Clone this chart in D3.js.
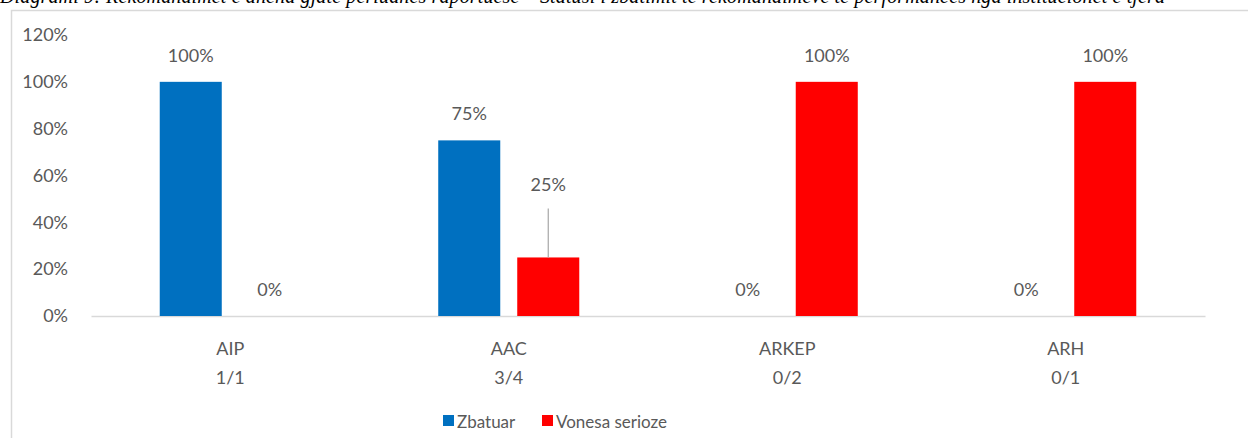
<!DOCTYPE html>
<html>
<head>
<meta charset="utf-8">
<script src="https://cdn.jsdelivr.net/npm/d3@7"></script>
<style>
  body { margin: 0; background: #fff; overflow: hidden; }
  text { font-family: Lato, "Open Sans", sans-serif; fill: #595959; }
</style>
</head>
<body>
<div id="chart-container"></div>
<script>
// data
const categories = ["AIP", "AAC", "ARKEP", "ARH"];
const ratios = ["1/1", "3/4", "0/2", "0/1"];
const seriesNames = ["Zbatuar", "Vonesa serioze"];
const zbatuar = [100, 75, 0, 0];
const vonesa = [0, 25, 100, 100];
const yTicks = [0, 20, 40, 60, 80, 100, 120];
const captionText = "Diagrami 9: Rekomandimet e dhëna gjatë periudhës raportuese – Statusi i zbatimit të rekomandimeve të performancës nga institucionet e tjera";

const svgWidth = 1248;
const svgHeight = 438;
const margin = { top: 35, right: 43, bottom: 122, left: 91 };
const width = svgWidth - margin.left - margin.right;
const height = svgHeight - margin.top - margin.bottom;

const svg = d3.select("#chart-container")
    .append("svg")
    .attr("width", svgWidth)
    .attr("height", svgHeight);

// caption from the document, cut by the top edge
svg.append("text")
    .attr("x", 0)
    .attr("y", 3)
    .attr("textLength", 1165)
    .attr("lengthAdjust", "spacing")
    .style("font-family", "'Liberation Serif', serif")
    .style("font-style", "italic")
    .style("font-size", "20px")
    .style("fill", "#000")
    .text(captionText);

// chart frame
svg.append("rect")
    .attr("x", 11.5)
    .attr("y", 10.5)
    .attr("width", 1300)
    .attr("height", 500)
    .attr("fill", "#fff")
    .attr("stroke", "#d9d9d9")
    .attr("stroke-width", 1.5);

const chart = svg.append("g")
    .attr("transform", `translate(${margin.left},${margin.top})`);

const x0 = d3.scaleBand()
    .domain(categories)
    .range([0, width])
    .padding(0);

const x1 = d3.scaleBand()
    .domain(seriesNames)
    .range([0, x0.bandwidth()])
    .paddingInner(0.215)
    .paddingOuter(0.87);

const y = d3.scaleLinear()
    .domain([0, 120])
    .range([height, 0]);

const color = d3.scaleOrdinal()
    .domain(seriesNames)
    .range(["#0070c0", "#ff0000"]);

// y axis labels only
const yAxis = chart.append("g")
    .call(d3.axisLeft(y).tickValues(yTicks).tickFormat(d => d + "%").tickSize(0).tickPadding(23));
yAxis.select(".domain").remove();
yAxis.selectAll("text")
    .style("font-family", "Lato, sans-serif")
    .style("font-size", "18px")
    .attr("fill", "#595959");

// category axis
const xAxis = chart.append("g")
    .attr("transform", `translate(0,${height})`)
    .call(d3.axisBottom(x0).tickSize(0).tickFormat(""));
xAxis.select(".domain").attr("stroke", "#d9d9d9").attr("stroke-width", 1.5);

xAxis.selectAll(".tick").each(function(d, i) {
    const t = d3.select(this).append("text")
        .attr("text-anchor", "middle")
        .style("font-size", "18px")
        .attr("fill", "#595959");
    t.append("tspan").attr("x", 0).attr("y", 39).text(d);
    t.append("tspan").attr("x", 0).attr("y", 68).text(ratios[i]);
});

const rows = categories.map((c, i) => ({
    cat: c,
    values: [
        { key: seriesNames[0], v: zbatuar[i] },
        { key: seriesNames[1], v: vonesa[i] }
    ]
}));

const groups = chart.selectAll(".grp")
    .data(rows)
    .enter().append("g")
    .attr("transform", d => `translate(${x0(d.cat)},0)`);

groups.selectAll("rect")
    .data(d => d.values)
    .enter().append("rect")
    .attr("x", d => x1(d.key))
    .attr("y", d => y(d.v))
    .attr("width", x1.bandwidth())
    .attr("height", d => height - y(d.v))
    .attr("fill", d => color(d.key));

// data labels; the AAC 25% label was dragged up with a leader line
groups.each(function(row) {
    const g = d3.select(this);
    row.values.forEach(function(d) {
        const cx = x1(d.key) + x1.bandwidth() / 2;
        const moved = row.cat === "AAC" && d.key === seriesNames[1];
        const ly = moved ? y(d.v) - 66 : y(d.v) - 20;
        if (moved) {
            g.append("line")
                .attr("x1", cx).attr("x2", cx)
                .attr("y1", ly + 17).attr("y2", y(d.v))
                .attr("stroke", "#a6a6a6")
                .attr("stroke-width", 1.2);
        }
        g.append("text")
            .attr("x", cx)
            .attr("y", ly)
            .attr("text-anchor", "middle")
            .style("font-size", "18px")
            .text(d.v + "%");
    });
});

// legend
const legend = svg.append("g")
    .attr("transform", "translate(443,421)");
const items = [{ name: seriesNames[0], x: 0 }, { name: seriesNames[1], x: 99 }];
items.forEach(function(it) {
    legend.append("rect")
        .attr("x", it.x)
        .attr("y", -6)
        .attr("width", 11)
        .attr("height", 11)
        .attr("fill", color(it.name));
    legend.append("text")
        .attr("x", it.x + 14)
        .attr("y", 6.5)
        .style("font-size", "17px")
        .text(it.name);
});
</script>
</body>
</html>
